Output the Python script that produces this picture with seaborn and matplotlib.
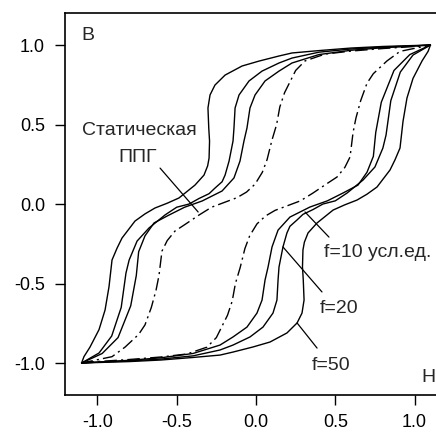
import matplotlib
matplotlib.use("Agg")
import matplotlib.pyplot as plt
import seaborn as sns
import numpy as np
import pandas as pd

# Ascending branches (H increasing); descending branch = point reflection
h_static = [-1.10, -1.003, -0.801, -0.599, -0.435, -0.309, -0.25, -0.21, -0.18, -0.15, -0.13,
            -0.10, -0.07, -0.04, 0.006, 0.06, 0.12, 0.20, 0.28, 0.359, 0.45, 0.511, 0.56, 0.593,
            0.612, 0.63, 0.66, 0.70, 0.74, 0.826, 0.908, 1.10]
b_static = [-1.00, -0.991, -0.978, -0.962, -0.943, -0.900, -0.84, -0.76, -0.70, -0.61, -0.50,
            -0.40, -0.28, -0.20, -0.125, -0.075, -0.04, -0.01, 0.02, 0.069, 0.13, 0.170, 0.23, 0.296,
            0.45, 0.54, 0.65, 0.76, 0.82, 0.90, 0.96, 1.00]

h_f10 = [-1.10, -1.003, -0.801, -0.599, -0.397, -0.227, -0.145, -0.057, 0.006, 0.038, 0.057, 0.076,
         0.101, 0.139, 0.214, 0.340, 0.45, 0.55, 0.643, 0.70, 0.74, 0.755, 0.79, 0.87, 0.97, 1.10]
b_f10 = [-1.00, -0.994, -0.983, -0.967, -0.940, -0.887, -0.836, -0.774, -0.686, -0.604, -0.478, -0.396,
         -0.270, -0.164, -0.082, -0.019, 0.02, 0.07, 0.119, 0.20, 0.30, 0.45, 0.64, 0.84, 0.94, 1.00]

h_f20 = [-1.10, -1.003, -0.801, -0.599, -0.397, -0.227, -0.145, -0.038, 0.044, 0.107, 0.132, 0.139,
         0.145, 0.170, 0.195, 0.214, 0.259, 0.296, 0.359, 0.422, 0.50, 0.574, 0.675, 0.75, 0.80,
         0.82, 0.85, 0.91, 0.99, 1.10]
b_f20 = [-1.00, -0.995, -0.987, -0.975, -0.955, -0.918, -0.887, -0.836, -0.774, -0.686, -0.604, -0.478,
         -0.396, -0.270, -0.182, -0.140, -0.100, -0.065, -0.035, 0.000, 0.020, 0.069, 0.151, 0.233,
         0.352, 0.434, 0.65, 0.83, 0.937, 1.00]

h_f50 = [-1.10, -1.003, -0.801, -0.599, -0.397, -0.227, -0.145, -0.019, 0.088, 0.195, 0.259, 0.290,
         0.303, 0.298, 0.293, 0.296, 0.305, 0.328, 0.385, 0.486, 0.560, 0.637, 0.700, 0.763, 0.845,
         0.876, 0.908, 0.927, 0.952, 0.990, 1.047, 1.085, 1.10]
b_f50 = [-1.00, -0.997, -0.991, -0.981, -0.965, -0.950, -0.931, -0.899, -0.868, -0.811, -0.748, -0.686,
         -0.604, -0.478, -0.396, -0.289, -0.240, -0.182, -0.119, -0.038, -0.005, 0.025, 0.062, 0.107,
         0.214, 0.277, 0.352, 0.520, 0.667, 0.790, 0.900, 0.960, 1.00]

x_ticks = [-1.0, -0.5, 0.0, 0.5, 1.0]
y_ticks = [-1.0, -0.5, 0.0, 0.5, 1.0]
tick_labels = ["-1.0", "-0.5", "0.0", "0.5", "1.0"]

sns.set_theme(style="white")
plt.rcParams['font.family'] = ['Liberation Sans', 'DejaVu Sans']
plt.rcParams['axes.unicode_minus'] = False

fig = plt.figure(figsize=(4.36, 4.34), dpi=100)
ax = fig.add_axes([0.148, 0.0899, 0.852, 0.880])


def loop(h, b):
    h = np.asarray(h, float)
    b = np.asarray(b, float)
    # ascending branch, then descending branch (its point reflection), closing the loop
    H = np.concatenate([h, -h[1:]])
    B = np.concatenate([b, -b[1:]])
    return pd.DataFrame({"H": H, "B": B})


for h, b, ls in [(h_static, b_static, (0, (9, 3, 1.5, 3))),
                 (h_f10, b_f10, '-'), (h_f20, b_f20, '-'), (h_f50, b_f50, '-')]:
    df = loop(h, b)
    sns.lineplot(data=df, x="H", y="B", sort=False, estimator=None, ax=ax,
                 color="black", lw=1.0, linestyle=ls)

# pointer lines
for (x0, y0), (x1, y1) in [((-0.605, 0.226), (-0.365, -0.05)),
                           ((0.309, -0.05), (0.460, -0.208)),
                           ((0.170, -0.270), (0.416, -0.553)),
                           ((0.259, -0.748), (0.385, -0.906))]:
    ax.plot([x0, x1], [y0, y1], color="black", lw=0.9)

fs = 14
ax.text(-0.735, 0.434, "Статическая", ha="center", va="baseline", fontsize=fs)
ax.text(-0.744, 0.264, "ППГ", ha="center", va="baseline", fontsize=fs)
ax.text(0.43, -0.333, "f=10 усл.ед.", ha="left", va="baseline", fontsize=fs)
ax.text(0.40, -0.686, "f=20", ha="left", va="baseline", fontsize=fs)
ax.text(0.35, -1.044, "f=50", ha="left", va="baseline", fontsize=fs)
ax.text(-1.10, 1.031, "B", ha="left", va="baseline", fontsize=fs)
ax.text(1.045, -1.12, "H", ha="left", va="baseline", fontsize=fs)

ax.set_xlim(-1.2075, 1.135)
ax.set_ylim(-1.201, 1.201)
ax.set_xticks(x_ticks)
ax.set_xticklabels(tick_labels)
ax.set_yticks(y_ticks)
ax.set_yticklabels(tick_labels)
ax.set_xlabel("")
ax.set_ylabel("")
ax.tick_params(axis="both", direction="out", length=7, width=1.0, color="black",
               labelsize=13, pad=7, bottom=True, left=True, top=False, right=False,
               labelcolor="black")
for side in ["left", "bottom", "top"]:
    ax.spines[side].set_color("black")
    ax.spines[side].set_linewidth(1.2)
ax.spines["right"].set_visible(False)

fig.savefig("out.png", dpi=100)
